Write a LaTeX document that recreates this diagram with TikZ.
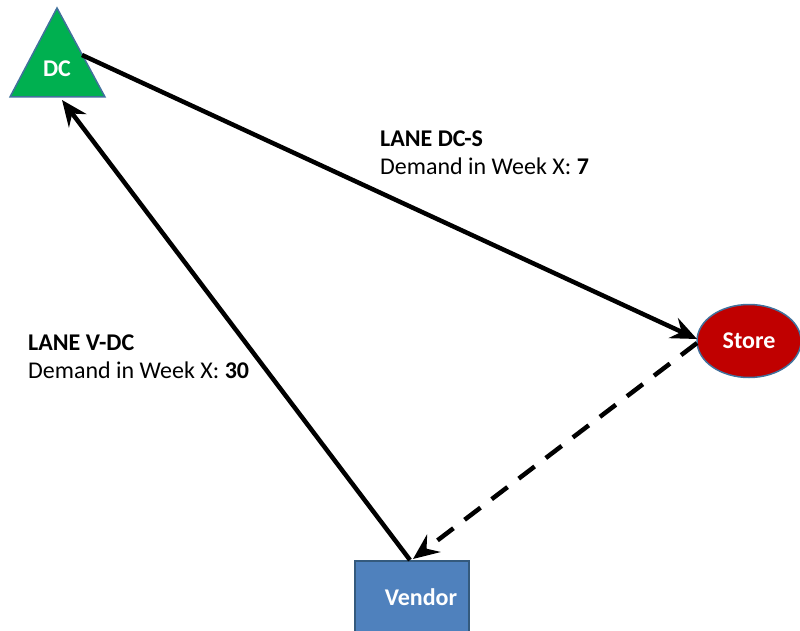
\documentclass[tikz,border=0pt]{standalone}
\usepackage{fontspec}
\setmainfont{Carlito}
\usetikzlibrary{arrows.meta,shapes.geometric}
\definecolor{dcgreen}{HTML}{00B050}
\definecolor{storered}{HTML}{C00000}
\definecolor{vendblue}{HTML}{4F81BD}
\definecolor{edgeblue}{HTML}{41719C}
\begin{document}
\begin{tikzpicture}[x=1pt,y=-1pt,
  lane/.style={line width=4.5pt, -{Stealth[length=26pt,width=22pt,inset=9pt]}},
  lbl/.style={anchor=base west, inner sep=0pt, font=\fontsize{24}{28}\selectfont, align=left},
  shapetext/.style={text=white, font=\fontsize{24}{28}\selectfont\bfseries}]
\useasboundingbox (0,0) rectangle (800,631);
% DC triangle
\coordinate (apex) at (57,8);
\coordinate (bl) at (10,97);
\coordinate (br) at (105,97);
\filldraw[fill=dcgreen, draw=edgeblue, line width=1.5pt, line join=miter] (apex) -- (br) -- (bl) -- cycle;
\node[shapetext] (dc) at (57,69) {DC};
% Store
\node[ellipse, draw=edgeblue, fill=storered, line width=1.5pt, minimum width=104pt, minimum height=73pt, inner sep=0pt, shapetext] (store) at (749,341) {Store};
% Vendor
\node[rectangle, draw=edgeblue!80!black, fill=vendblue, line width=1.5pt, minimum width=114pt, minimum height=80pt, inner sep=0pt, anchor=north west] (vendor) at (354,560) {};
\node[shapetext] (vendtext) at (421,597) {Vendor};
% connector end points
\coordinate (dcout) at (82,55);
\coordinate (dcin) at (62,100);
\coordinate (storein) at (697,339);
\coordinate (storeout) at (697,343);
\coordinate (vendtop) at (410,560);
\coordinate (vendin) at (413,559);
\draw[lane] (dcout) -- (storein);
\draw[lane] (vendtop) -- (dcin);
\draw[lane, dash pattern=on 20pt off 14pt] (storeout) -- (vendin);
% labels
\node[lbl] (l1a) at (380,147) {\textbf{LANE DC-S}};
\node[lbl] (l1b) at (380,175) {Demand in Week X: \textbf{7}};
\node[lbl] (l2a) at (28,350) {\textbf{LANE V-DC}};
\node[lbl] (l2b) at (28,378) {Demand in Week X: \textbf{30}};
\end{tikzpicture}
\end{document}
